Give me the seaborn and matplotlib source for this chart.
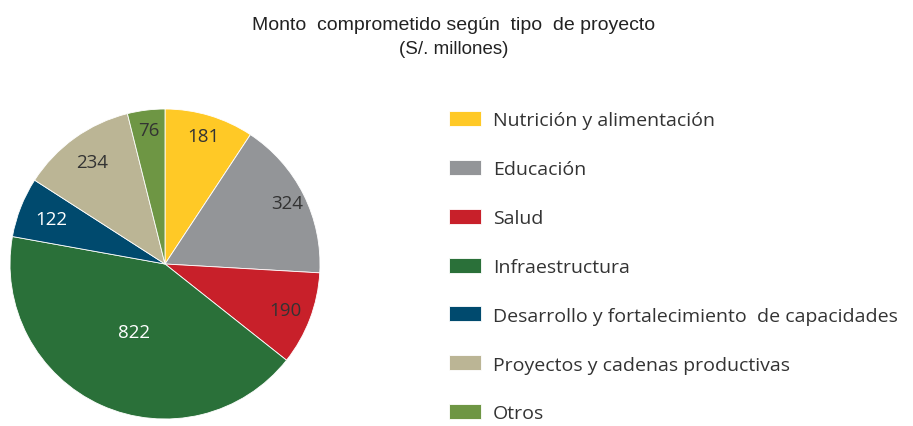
import matplotlib
matplotlib.use("Agg")
import matplotlib.pyplot as plt
import seaborn as sns
import numpy as np

# data (S/. millones)
categories = ["Nutrición y alimentación", "Educación", "Salud", "Infraestructura",
              "Desarrollo y fortalecimiento  de capacidades",
              "Proyectos y cadenas productivas", "Otros"]
values = [181, 324, 190, 822, 122, 234, 76]
colors = ["#FFC926", "#939598", "#C8202A", "#2A7039", "#004A6E", "#BBB595", "#6E9644"]
label_colors = ["#333333", "#333333", "#333333", "#FFFFFF", "#FFFFFF", "#333333", "#333333"]
label_dist = [0.86, 0.88, 0.83, 0.48, 0.79, 0.81, 0.87]

sns.set_theme(style="white")
plt.rcParams['font.family'] = ['Open Sans', 'DejaVu Sans']

fig = plt.figure(figsize=(9.13, 4.27), dpi=100)
ax = fig.add_axes([10 / 913, 7 / 427, 310 / 913, 310 / 427])

wedges, _ = ax.pie(values, colors=colors, startangle=90, counterclock=False,
                   wedgeprops=dict(edgecolor="white", linewidth=0.6))
ax.set_xlim(-1, 1)
ax.set_ylim(-1, 1)
ax.set_aspect("equal")

# value labels placed along each wedge's mid angle
for w, v, c, d in zip(wedges, values, label_colors, label_dist):
    ang = np.deg2rad((w.theta1 + w.theta2) / 2)
    ax.text(d * np.cos(ang), d * np.sin(ang), str(v), ha="center", va="center",
            fontsize=13.5, color=c)

# title
fig.text(0.497, 1 - 25 / 427, "Monto  comprometido según  tipo  de proyecto", ha="center", va="center",
         fontsize=14, color="#222222", family=["Liberation Sans", "DejaVu Sans"])
fig.text(0.497, 1 - 50 / 427, "(S/. millones)", ha="center", va="center",
         fontsize=13.5, color="#222222", family=["Liberation Sans", "DejaVu Sans"])

# legend
leg = fig.legend(wedges, categories, loc="upper left", bbox_to_anchor=(449 / 913, 1 - 112 / 427),
                 frameon=False, fontsize=14, labelspacing=1.57, handlelength=1.65,
                 handleheight=0.82, handletextpad=0.62, borderaxespad=0, borderpad=0)
for t in leg.get_texts():
    t.set_color("#333333")

plt.savefig("out.png", dpi=100)
print("Saved out.png")
